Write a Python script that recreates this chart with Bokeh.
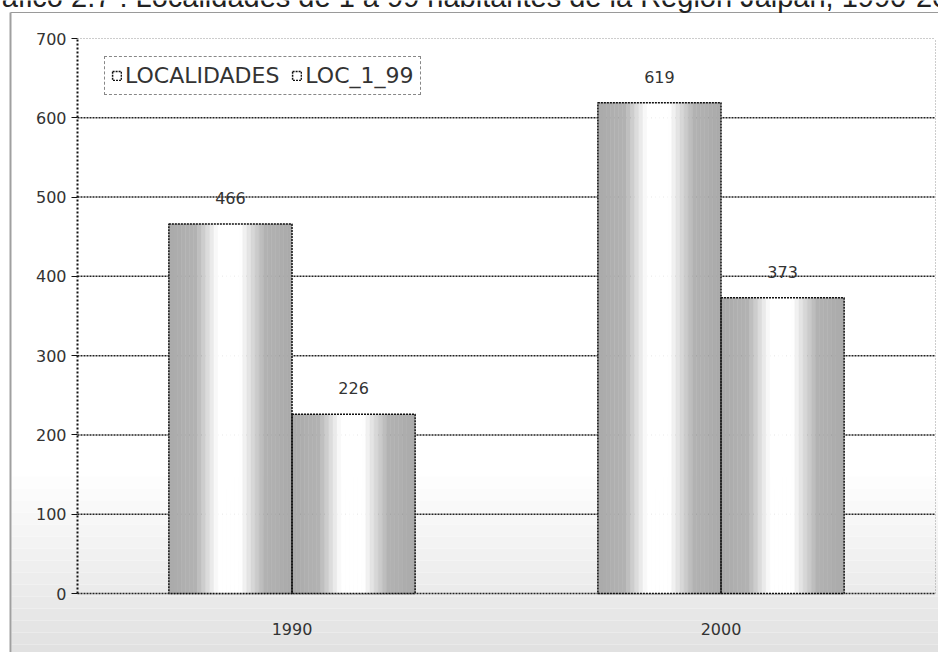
import numpy as np
from bokeh.plotting import figure
from bokeh.models import Range1d, FixedTicker, Legend, LegendItem, BoxAnnotation
from bokeh.core.properties import value
from bokeh.embed import file_html
from bokeh.resources import INLINE

# ---- data ----
categories = ["1990", "2000"]
series_names = ["LOCALIDADES", "LOC_1_99"]
localidades = [466, 619]
loc_1_99 = [226, 373]
y_ticks = [0, 100, 200, 300, 400, 500, 600, 700]
title_text = "Gráfico 2.7 : Localidades de 1 a 99 habitantes de la Región Jalpan, 1990-2000"

FONT = "DejaVu Sans"
W, H = 938, 652
AX_X, Y700, Y0 = 77, 38, 593     # canvas pixels of axis, 700 and 0
PXX = 429.0
PXY = (Y0 - Y700) / 700.0


def px_to_x(px):
    return (px - AX_X) / PXX


def py_to_y(py):
    return (Y0 - py) / PXY


x_start, x_end = px_to_x(0), px_to_x(W)
y_end, y_start = py_to_y(0), py_to_y(H)
n_cat = len(categories)

p = figure(width=W, height=H, output_backend="svg", toolbar_location=None,
           x_range=Range1d(x_start, x_end), y_range=Range1d(y_start, y_end),
           x_axis_location=None, y_axis_location="left",
           min_border_left=0, min_border_right=0, min_border_top=0, min_border_bottom=0)
p.background_fill_color = "white"
p.border_fill_color = "white"
p.outline_line_color = None
p.xgrid.visible = False
p.ygrid.visible = False

# background gradient (floor shading)
band_edges = list(range(476, 664, 12))
for k in range(len(band_edges) - 1):
    frac = (k + 1) / (len(band_edges) - 1)
    g = int(round(255 - frac * 30))
    p.add_layout(BoxAnnotation(left=px_to_x(11), top=py_to_y(band_edges[k]),
                               bottom=py_to_y(band_edges[k + 1]),
                               fill_color="#%02x%02x%02x" % (g, g, g), fill_alpha=1,
                               line_color=None, level="underlay"))

# outer chart box (left and top gray lines)
p.segment(x0=[px_to_x(10)], y0=[py_to_y(12)], x1=[x_end], y1=[py_to_y(12)],
          line_color="#9a9a9a", line_width=1)
p.segment(x0=[px_to_x(10)], y0=[py_to_y(12)], x1=[px_to_x(10)], y1=[y_start],
          line_color="#a0a0a0", line_width=2)

# gridlines (plot area only)
grid_t = y_ticks[:-1]
p.segment(x0=[0] * len(grid_t), y0=grid_t, x1=[n_cat] * len(grid_t), y1=grid_t,
          line_color="#222222", line_width=1.5, line_dash="2 1")
# plot-area top and right dotted border
p.segment(x0=[0], y0=[y_ticks[-1]], x1=[n_cat], y1=[y_ticks[-1]],
          line_color="#9a9a9a", line_width=1, line_dash="1 2")
p.segment(x0=[n_cat], y0=[0], x1=[n_cat], y1=[y_ticks[-1]],
          line_color="#9a9a9a", line_width=1, line_dash="1 2")

# y axis drawn at x = 0
ax = p.yaxis[0]
ax.fixed_location = 0
ax.ticker = FixedTicker(ticks=y_ticks)
ax.bounds = (0, 700)
ax.axis_line_color = "#111111"
ax.axis_line_width = 2
ax.axis_line_dash = "2 2"
ax.major_tick_line_color = "#111111"
ax.major_tick_out = 6
ax.major_tick_in = 0
ax.minor_tick_line_color = None
ax.major_label_text_font = FONT
ax.major_label_text_font_size = "16px"
ax.major_label_text_color = "#333333"
ax.major_label_standoff = 5

# bars with cylindrical shading
bar_w = 0.287
N = 30
knots_t = [0, 0.22, 0.40, 0.58, 0.78, 1.0]
knots_s = [1, 0.9, 0.0, 0.0, 0.9, 1.0]
sl, sr, st, sc = [], [], [], []
ol, orr, ot = [], [], []
for s_idx, vals in enumerate([localidades, loc_1_99]):
    for i, v in enumerate(vals):
        c = i + 0.5
        left = c - bar_w if s_idx == 0 else c
        for j in range(N):
            t = (j + 0.5) / N
            s = np.interp(t, knots_t, knots_s)
            g = int(round(255 - s * (255 - 170)))
            sl.append(left + j * bar_w / N)
            sr.append(left + (j + 1) * bar_w / N)
            st.append(v)
            sc.append("#%02x%02x%02x" % (g, g, g))
        ol.append(left)
        orr.append(left + bar_w)
        ot.append(v)

p.quad(left=sl, right=sr, top=st, bottom=0, fill_color=sc, line_color=sc, line_width=0.5)
outline_r = p.quad(left=ol, right=orr, top=ot, bottom=0, fill_color=None,
                   line_color="#111111", line_width=1.5, line_dash="2 1")

# value labels
lx, ly, lt = [], [], []
for s_idx, vals in enumerate([localidades, loc_1_99]):
    for i, v in enumerate(vals):
        c = i + 0.5
        lx.append(c - bar_w / 2 if s_idx == 0 else c + bar_w / 2)
        ly.append(v)
        lt.append(str(v))
p.text(x=lx, y=ly, text=lt, text_align="center", text_baseline="middle", y_offset=-26,
       text_font=value(FONT), text_font_size="16px", text_color="#333333")

# category labels
p.text(x=[i + 0.5 for i in range(n_cat)], y=[py_to_y(628)] * n_cat,
       text=categories, text_align="center", text_baseline="middle",
       text_font=value(FONT), text_font_size="16px", text_color="#333333")

# title (cut at the top edge, as in the reference)
p.text(x=[px_to_x(-31)], y=[py_to_y(-4)], text=[title_text], text_align="left",
       text_baseline="alphabetic", text_font=value("Liberation Sans"),
       text_font_size="29px", text_color="#222222")

# legend
legend = Legend(items=[LegendItem(label=series_names[0], renderers=[outline_r], index=0),
                       LegendItem(label=series_names[1], renderers=[outline_r], index=n_cat)],
                location=(104, H - 95), orientation="horizontal")
legend.border_line_color = "#111111"
legend.border_line_width = 1.5
legend.border_line_dash = "2 1"
legend.background_fill_color = "white"
legend.background_fill_alpha = 1
legend.padding = 6
legend.spacing = 12
legend.margin = 0
legend.glyph_width = 11
legend.glyph_height = 11
legend.label_standoff = 3
legend.label_text_font = FONT
legend.label_text_font_size = "22px"
legend.label_text_color = "#333333"
p.add_layout(legend, "center")

open("out.html", "w").write(file_html(p, INLINE))
